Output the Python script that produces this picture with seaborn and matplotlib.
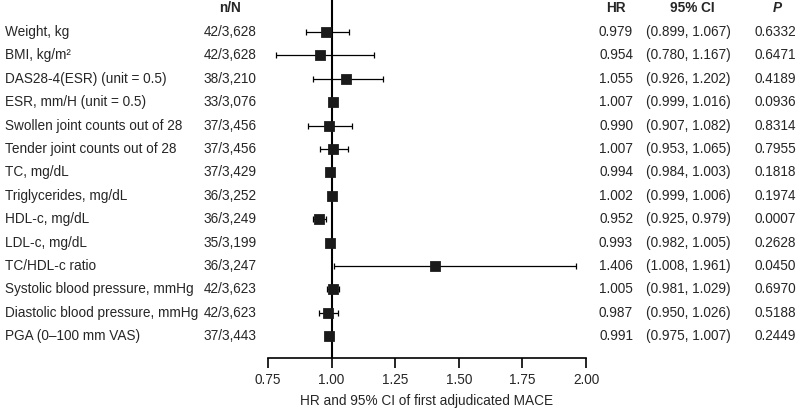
import numpy as np
import pandas as pd
import seaborn as sns
import matplotlib.pyplot as plt
import matplotlib.transforms as mtransforms

labels = ["Weight, kg", "BMI, kg/m²", "DAS28-4(ESR) (unit = 0.5)", "ESR, mm/H (unit = 0.5)",
          "Swollen joint counts out of 28", "Tender joint counts out of 28", "TC, mg/dL",
          "Triglycerides, mg/dL", "HDL-c, mg/dL", "LDL-c, mg/dL", "TC/HDL-c ratio",
          "Systolic blood pressure, mmHg", "Diastolic blood pressure, mmHg", "PGA (0–100 mm VAS)"]
n_over_n = ["42/3,628", "42/3,628", "38/3,210", "33/3,076", "37/3,456", "37/3,456", "37/3,429",
            "36/3,252", "36/3,249", "35/3,199", "36/3,247", "42/3,623", "42/3,623", "37/3,443"]
hr = [0.979, 0.954, 1.055, 1.007, 0.990, 1.007, 0.994, 1.002, 0.952, 0.993, 1.406, 1.005, 0.987, 0.991]
ci_lo = [0.899, 0.780, 0.926, 0.999, 0.907, 0.953, 0.984, 0.999, 0.925, 0.982, 1.008, 0.981, 0.950, 0.975]
ci_hi = [1.067, 1.167, 1.202, 1.016, 1.082, 1.065, 1.003, 1.006, 0.979, 1.005, 1.961, 1.029, 1.026, 1.007]
p_vals = ["0.6332", "0.6471", "0.4189", "0.0936", "0.8314", "0.7955", "0.1818",
          "0.1974", "0.0007", "0.2628", "0.0450", "0.6970", "0.5188", "0.2449"]
x_ticks = [0.75, 1.00, 1.25, 1.50, 1.75, 2.00]

df = pd.DataFrame({"label": labels, "nN": n_over_n, "hr": hr, "lo": ci_lo, "hi": ci_hi, "p": p_vals})
df["row"] = np.arange(len(df))

sns.set_style("white")
plt.rcParams["font.family"] = ["Liberation Sans", "DejaVu Sans"]
fs = 9.8

fig = plt.figure(figsize=(8, 4.09), dpi=100)
ax = fig.add_axes([268 / 800, 1 - 358 / 409, (586 - 268) / 800, 358 / 409])

# confidence intervals + point estimates
ax.errorbar(df["hr"], df["row"], xerr=[df["hr"] - df["lo"], df["hi"] - df["hr"]],
            fmt="none", ecolor="black", elinewidth=0.9, capsize=2.5, capthick=0.9, zorder=2)
sns.scatterplot(data=df, x="hr", y="row", marker="s", s=50, color="#1a1a1a",
                edgecolor="#1a1a1a", ax=ax, zorder=3, legend=False)
ax.axvline(1.0, color="black", lw=1.5, zorder=1)

ax.set_xlim(0.75, 2.0)
ax.set_ylim(13.93, -1.37)
ax.set_xticks(x_ticks)
ax.set_xticklabels([f"{t:.2f}" for t in x_ticks], fontsize=fs)
ax.set_yticks([])
ax.set_ylabel("")
ax.set_xlabel("HR and 95% CI of first adjudicated MACE", fontsize=fs, labelpad=5)
for s in ["top", "right", "left"]:
    ax.spines[s].set_visible(False)
ax.spines["bottom"].set_linewidth(1.2)
ax.spines["bottom"].set_color("black")
ax.spines["bottom"].set_bounds(0.75, 2.0)
ax.tick_params(axis="x", direction="out", length=7, width=1.2, color="black", pad=4, bottom=True)

# table columns (x in figure fraction, y in row units)
trans = mtransforms.blended_transform_factory(fig.transFigure, ax.transData)
col_nN, col_hr, col_ci, col_p = 230 / 800, 616 / 800, 688 / 800, 775 / 800
for _, r in df.iterrows():
    ax.text(5 / 800, r["row"], r["label"], transform=trans, ha="left", va="center", fontsize=fs, clip_on=False)
    ax.text(col_nN, r["row"], r["nN"], transform=trans, ha="center", va="center", fontsize=fs, clip_on=False)
    ax.text(col_hr, r["row"], f"{r['hr']:.3f}", transform=trans, ha="center", va="center", fontsize=fs, clip_on=False)
    ax.text(col_ci, r["row"], f"({r['lo']:.3f}, {r['hi']:.3f})", transform=trans, ha="center", va="center",
            fontsize=fs, clip_on=False)
    ax.text(col_p, r["row"], r["p"], transform=trans, ha="center", va="center", fontsize=fs, clip_on=False)

head_y = -1.03
ax.text(col_nN, head_y, "n/N", transform=trans, ha="center", va="center", fontsize=fs, fontweight="bold", clip_on=False)
ax.text(col_hr, head_y, "HR", transform=trans, ha="center", va="center", fontsize=fs, fontweight="bold", clip_on=False)
ax.text(692 / 800, head_y, "95% CI", transform=trans, ha="center", va="center", fontsize=fs, fontweight="bold", clip_on=False)
ax.text(777 / 800, head_y, "P", transform=trans, ha="center", va="center", fontsize=fs, fontweight="bold",
        fontstyle="italic", clip_on=False)

fig.savefig("out.png", dpi=100, facecolor="white")
